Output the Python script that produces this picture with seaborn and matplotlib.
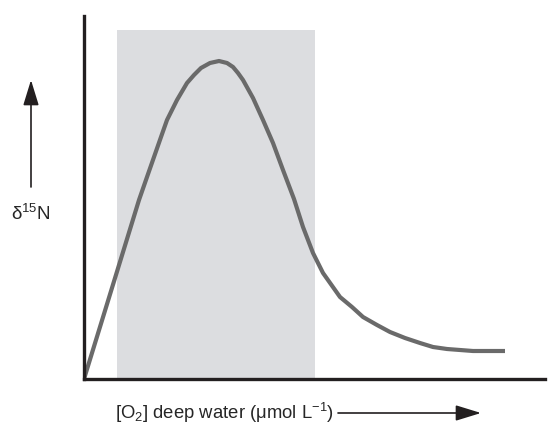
import matplotlib
matplotlib.use("Agg")
import matplotlib.pyplot as plt
import seaborn as sns
import pandas as pd
from matplotlib.patches import FancyArrowPatch

# Curve (arbitrary units: O2 along x, d15N along y)
o2 = [0, 55, 63, 70, 77, 83, 93, 103, 110, 117, 126, 135, 143, 149, 154,
      159, 169, 179, 189, 199, 210, 219, 229, 239, 256, 268, 279, 293, 306,
      321, 336, 349, 363, 389, 421]
d15n = [0, 179, 202, 222, 242, 259, 279, 296, 304, 311, 316, 318, 316, 312,
        306, 299, 281, 259, 236, 209, 180, 152, 126, 106, 82, 72, 62, 54, 47,
        41, 36, 32, 30, 28, 28]
shade_range = [33, 231]
shade_top = 349
x_limits = [0, 461]
y_limits = [0, 363]

sns.set_style("white")
plt.rcParams['font.family'] = ['Liberation Sans', 'DejaVu Sans']
plt.rcParams['mathtext.fontset'] = 'custom'
plt.rcParams['mathtext.rm'] = 'Liberation Sans'
plt.rcParams['mathtext.it'] = 'Liberation Sans:italic'

W, H = 558, 432
fig = plt.figure(figsize=(W / 100, H / 100), dpi=100)
ax = fig.add_axes([84 / W, (H - 379) / H, (545 - 84) / W, (379 - 16) / H])

df = pd.DataFrame({"o2": o2, "d15n": d15n})
ax.axvspan(shade_range[0], shade_range[1], ymin=0, ymax=shade_top / y_limits[1],
           color="#dcdde0", lw=0, zorder=0)
sns.lineplot(data=df, x="o2", y="d15n", ax=ax, color="#6a6a6a", lw=3.0,
             sort=False, solid_capstyle="butt", solid_joinstyle="round", zorder=2)

ax.set_xlim(*x_limits)
ax.set_ylim(*y_limits)
ax.set_xticks([])
ax.set_yticks([])
ax.set_xlabel("")
ax.set_ylabel("")
for s in ["top", "right"]:
    ax.spines[s].set_visible(False)
for s in ["left", "bottom"]:
    ax.spines[s].set_color("#231f20")
    ax.spines[s].set_linewidth(2.4)
    ax.spines[s].set_capstyle("projecting")

def fp(x, y):
    return (x / W, 1 - y / H)

arrow_kw = dict(transform=fig.transFigure,
                arrowstyle="-|>,head_length=6.5,head_width=2.0",
                color="#231f20", lw=1.2, mutation_scale=2.4,
                shrinkA=0, shrinkB=0)

# y-axis label and arrow
fig.text(*fp(31, 214), r"δ$^{15}$N", ha="center", va="center", fontsize=13.5)
fig.add_artist(FancyArrowPatch(fp(31, 187), fp(31, 80), **arrow_kw))

# x-axis label and arrow
fig.text(*fp(115, 413), r"[O$_2$] deep water (μmol L$^{-1}$)", ha="left", va="center",
         fontsize=13.3)
fig.add_artist(FancyArrowPatch(fp(338, 413), fp(481, 413), **arrow_kw))

fig.savefig("out.png", dpi=100)
